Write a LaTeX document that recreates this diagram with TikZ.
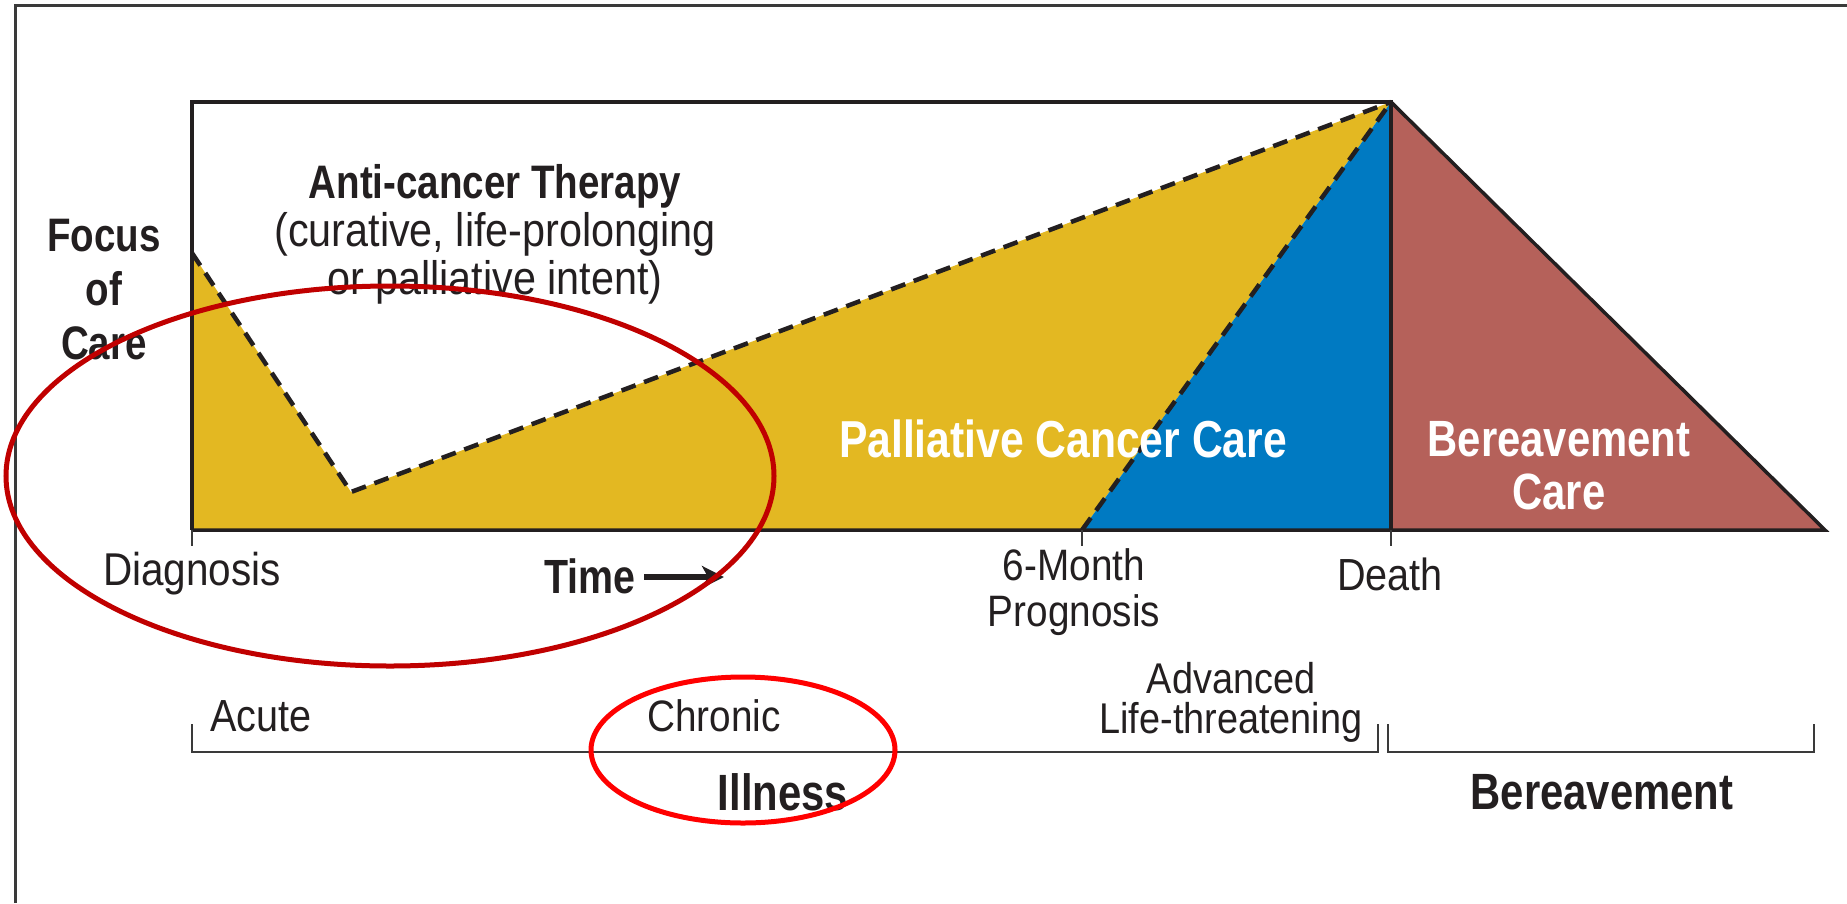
\documentclass[tikz,border=0pt]{standalone}
\usepackage{fontspec}
\setmainfont{Liberation Sans}[FakeStretch=0.88]
\newfontfamily\condb{Liberation Sans}[FakeStretch=0.82]
\usetikzlibrary{arrows.meta}
\definecolor{cyel}{HTML}{E3B822}
\definecolor{cblue}{HTML}{007AC2}
\definecolor{cred}{HTML}{B5615A}
\definecolor{ink}{HTML}{231F20}
\definecolor{ringdark}{HTML}{C00000}
\definecolor{ringbright}{HTML}{FF0000}
\definecolor{framegray}{HTML}{3A3A3A}
\begin{document}
\begin{tikzpicture}[x=1pt,y=-1pt,
  reg/.style={inner sep=0pt, text=ink, align=center},
  bld/.style={inner sep=0pt, text=ink, align=center},
  outline/.style={draw=ink, line width=3.5pt, line join=miter},
  dashline/.style={draw=ink, line width=4.5pt, dash pattern=on 15pt off 9pt},
  thin/.style={draw=framegray, line width=2pt},
  ring/.style={line width=5pt}
]
\useasboundingbox (0,0) rectangle (1847,903);
% frame
\draw[draw=framegray, line width=3pt] (15,903) -- (15,5) -- (1847,5);
% key coordinates
\coordinate (TL) at (192,102);
\coordinate (BL) at (192,530);
\coordinate (S) at (192,253);
\coordinate (V) at (351,492);
\coordinate (A) at (1391,102);
\coordinate (M) at (1082,530);
\coordinate (D) at (1391,530);
\coordinate (E) at (1825,530);
% fills
\fill[cyel] (S) -- (V) -- (A) -- (M) -- (BL) -- cycle;
\fill[cblue] (M) -- (A) -- (D) -- cycle;
\fill[cred] (A) -- (E) -- (D) -- cycle;
% dashed boundaries
\draw[dashline] (S) -- (V) -- (A);
\draw[dashline] (M) -- (A);
% solid outlines
\draw[outline] (BL) -- (TL) -- (A) -- (D);
\draw[outline] (A) -- (E) -- (BL);
% ticks
\draw[thin] (BL) -- ++(0,16);
\draw[thin] (M) -- ++(0,16);
\draw[thin] (D) -- ++(0,16);
% brackets
\draw[thin] (192,724) -- (192,752) -- (1378,752) -- (1378,724);
\draw[thin] (1388,724) -- (1388,752) -- (1814,752) -- (1814,724);
% texts
\node[bld, font=\condb\bfseries\fontsize{47}{54}\selectfont] (focus) at (104,290) {Focus\\of\\Care};
\node[bld, font=\condb\bfseries\fontsize{47}{50}\selectfont] (anti) at (495,186) {Anti-cancer Therapy};
\node[reg, font=\fontsize{47}{48}\selectfont] (intent) at (495,258) {(curative, life-prolonging\\or palliative intent)};
\node[bld, text=white, font=\condb\bfseries\fontsize{52}{54}\selectfont] (pcc) at (1063,439) {Palliative Cancer Care};
\node[bld, text=white, font=\condb\bfseries\fontsize{51}{53}\selectfont] (bc) at (1559,466) {Bereavement\\Care};
\node[reg, font=\fontsize{46}{46}\selectfont] (diag) at (192,574) {Diagnosis};
\node[bld, font=\condb\bfseries\fontsize{48}{48}\selectfont] (time) at (590,576) {Time};
\coordinate (arrS) at (644,577);
\coordinate (arrE) at (724,577);
\draw[draw=ink, line width=6pt, -{Stealth[length=22pt,width=22pt,inset=6pt]}] (arrS) -- (arrE);
\node[reg, font=\fontsize{44}{46}\selectfont] (six) at (1074,592) {6-Month\\Prognosis};
\node[reg, font=\fontsize{45}{45}\selectfont] (death) at (1390,574) {Death};
\node[reg, font=\fontsize{43}{40}\selectfont] (adv) at (1231,702) {Advanced\\Life-threatening};
\node[reg, anchor=west, font=\fontsize{45}{45}\selectfont] (acute) at (210,716) {Acute};
\node[reg, font=\fontsize{44}{44}\selectfont] (chronic) at (714,716) {Chronic};
\node[bld, font=\condb\bfseries\fontsize{51}{51}\selectfont] (ill) at (783,792) {Illness};
\node[bld, font=\condb\bfseries\fontsize{51}{51}\selectfont] (ber) at (1602,792) {Bereavement};
% highlight rings
\draw[ring, draw=ringdark] (390,476) ellipse [x radius=384, y radius=190];
\draw[ring, draw=ringbright] (743,750) ellipse [x radius=152, y radius=73];
\end{tikzpicture}
\end{document}
